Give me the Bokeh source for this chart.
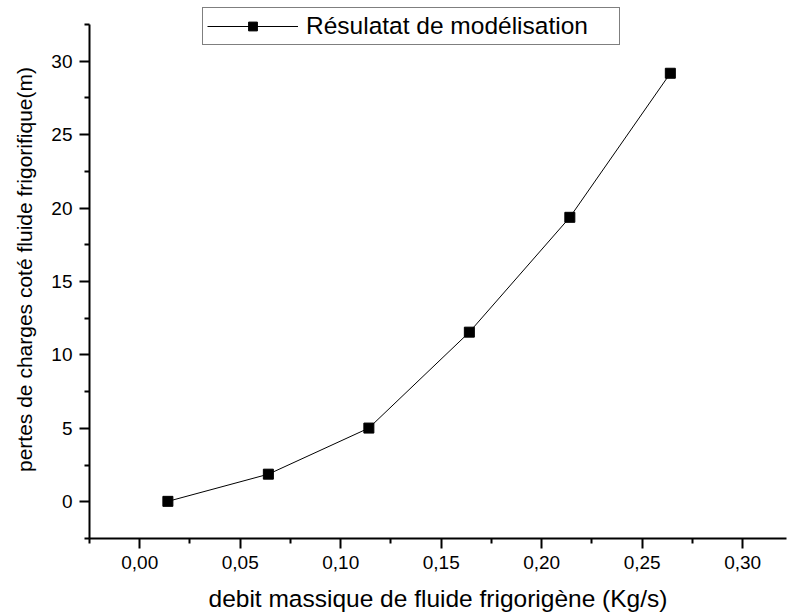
from bokeh.plotting import figure
from bokeh.models import (FixedTicker, CustomJSTickFormatter, Range1d, Legend,
                          LegendItem, ColumnDataSource)
from bokeh.embed import file_html
from bokeh.resources import INLINE

# ---- data ----
debit = [0.014, 0.064, 0.114, 0.164, 0.214, 0.264]
pertes = [0.03, 1.88, 5.02, 11.55, 19.37, 29.18]

x_major = [0.00, 0.05, 0.10, 0.15, 0.20, 0.25, 0.30]
x_minor = [-0.025, 0.025, 0.075, 0.125, 0.175, 0.225, 0.275, 0.325]
y_major = [0, 5, 10, 15, 20, 25, 30]
y_minor = [-2.5, 2.5, 7.5, 12.5, 17.5, 22.5, 27.5, 32.5]
y_axis_span = (-2.5, 32.5)

series_label = "Résulatat de modélisation"
x_title = "debit massique de fluide frigorigène (Kg/s)"
y_title = "pertes de charges coté fluide frigorifique(m)"

FONT = "Liberation Sans"

# frame reaches the top of the canvas so the legend is not clipped;
# the y axis line itself is bounded to -2.5 .. 32.5
p = figure(width=787, height=616, output_backend="svg", toolbar_location=None,
           x_range=Range1d(-0.025, 0.3218), y_range=Range1d(-2.5, 34.134),
           frame_width=697, frame_height=538,
           min_border_left=89, min_border_top=0, min_border_right=1,
           min_border_bottom=78)
p.outline_line_color = None
p.background_fill_color = "white"
p.border_fill_color = "white"
p.xgrid.visible = False
p.ygrid.visible = False

src = ColumnDataSource(dict(x=debit, y=pertes))
ln = p.line("x", "y", source=src, line_color="black", line_width=1)
sq = p.scatter("x", "y", source=src, marker="square", size=10,
               fill_color="black", line_color="black")

for ax in (p.xaxis[0], p.yaxis[0]):
    ax.axis_line_width = 2
    ax.axis_line_color = "black"
    ax.major_tick_line_width = 2
    ax.minor_tick_line_width = 2
    ax.major_tick_line_color = "black"
    ax.minor_tick_line_color = "black"
    ax.major_tick_out = 10
    ax.major_tick_in = 0
    ax.minor_tick_out = 5
    ax.minor_tick_in = 0
    ax.major_label_text_font = FONT
    ax.major_label_text_color = "black"
    ax.axis_label_text_font = FONT
    ax.axis_label_text_font_style = "normal"
    ax.axis_label_text_color = "black"

xa = p.xaxis[0]
xa.ticker = FixedTicker(ticks=x_major, minor_ticks=x_minor)
xa.formatter = CustomJSTickFormatter(code="return tick.toFixed(2).replace('.', ',');")
xa.major_label_text_font_size = "19px"
xa.major_label_standoff = 7
xa.axis_label = x_title
xa.axis_label_text_font_size = "24.5px"
xa.axis_label_standoff = 13

ya = p.yaxis[0]
ya.bounds = y_axis_span
ya.ticker = FixedTicker(ticks=y_major, minor_ticks=y_minor)
ya.major_label_text_font_size = "19px"
ya.major_label_standoff = 7
ya.axis_label = y_title
ya.axis_label_text_font_size = "21px"
ya.axis_label_standoff = 12

legend = Legend(items=[LegendItem(label=series_label, renderers=[ln, sq])],
                location=(113, 493), padding=4, spacing=0, margin=0,
                glyph_width=91, glyph_height=22, label_standoff=8,
                label_width=309, label_height=27,
                label_text_font=FONT, label_text_font_size="24.5px",
                label_text_color="black",
                border_line_color="black", border_line_width=1.5,
                background_fill_color="white", background_fill_alpha=1)
p.add_layout(legend)

open("out.html", "w").write(file_html(p, INLINE))
